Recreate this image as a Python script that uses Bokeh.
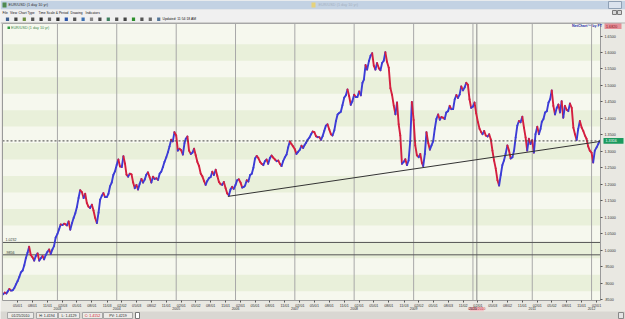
import numpy as np
from bokeh.plotting import figure
from bokeh.models import Range1d, LinearAxis, FixedTicker, ColumnDataSource
from bokeh.core.properties import value
from bokeh.embed import file_html
from bokeh.resources import INLINE

# ---------------- data (EUR/USD, ~3 samples per month: 1st, 11th, 21st) ----------------
eur_2002 = [0.866, 0.871, 0.868, 0.874, 0.882, 0.877, 0.878, 0.885, 0.896,
            0.906, 0.918, 0.932, 0.938, 0.954, 0.976, 0.992, 1.010, 0.985,
            0.978, 0.968, 0.982, 0.990, 0.968, 0.975, 0.982, 0.972, 0.985,
            0.995, 1.002, 0.988, 1.002, 1.012, 1.038]          # Feb..Dec
eur_2003 = [1.049, 1.063, 1.078, 1.076, 1.080, 1.078, 1.075, 1.087, 1.062,
            1.082, 1.098, 1.112, 1.131, 1.158, 1.182, 1.176, 1.158, 1.171,
            1.143, 1.132, 1.128, 1.138, 1.120, 1.098, 1.082, 1.114, 1.153,
            1.165, 1.173, 1.161, 1.161, 1.171, 1.194, 1.205, 1.228, 1.239]
eur_2004 = [1.259, 1.275, 1.254, 1.252, 1.285, 1.262, 1.229, 1.223, 1.232,
            1.230, 1.205, 1.188, 1.198, 1.184, 1.201, 1.216, 1.205, 1.214,
            1.229, 1.236, 1.222, 1.205, 1.223, 1.216, 1.218, 1.213, 1.232,
            1.238, 1.252, 1.268, 1.282, 1.297, 1.315, 1.335, 1.330, 1.358]
eur_2005 = [1.348, 1.302, 1.308, 1.303, 1.290, 1.325, 1.338, 1.345, 1.302,
            1.292, 1.296, 1.308, 1.288, 1.268, 1.256, 1.232, 1.224, 1.210,
            1.198, 1.210, 1.218, 1.222, 1.238, 1.228, 1.244, 1.225, 1.207,
            1.200, 1.198, 1.207, 1.188, 1.172, 1.166, 1.184, 1.192, 1.186]
eur_2006 = [1.198, 1.212, 1.215, 1.205, 1.190, 1.192, 1.196, 1.212, 1.208,
            1.228, 1.232, 1.250, 1.278, 1.286, 1.280, 1.268, 1.262, 1.258,
            1.270, 1.275, 1.262, 1.280, 1.287, 1.281, 1.275, 1.270, 1.272,
            1.262, 1.255, 1.270, 1.282, 1.290, 1.312, 1.330, 1.322, 1.315]
eur_2007 = [1.306, 1.292, 1.298, 1.305, 1.317, 1.310, 1.318, 1.326, 1.335,
            1.342, 1.352, 1.360, 1.358, 1.346, 1.343, 1.343, 1.335, 1.346,
            1.362, 1.378, 1.382, 1.366, 1.352, 1.348, 1.364, 1.392, 1.412,
            1.416, 1.420, 1.440, 1.463, 1.470, 1.488, 1.468, 1.441, 1.452]
eur_2008 = [1.472, 1.465, 1.465, 1.482, 1.470, 1.508, 1.518, 1.562, 1.548,
            1.574, 1.590, 1.598, 1.560, 1.548, 1.568, 1.552, 1.546, 1.568,
            1.575, 1.601, 1.572, 1.554, 1.492, 1.472, 1.438, 1.412, 1.448,
            1.382, 1.348, 1.262, 1.268, 1.276, 1.258, 1.272, 1.330, 1.450]
eur_2009 = [1.395, 1.318, 1.288, 1.282, 1.292, 1.265, 1.255, 1.292, 1.358,
            1.325, 1.305, 1.318, 1.330, 1.368, 1.398, 1.412, 1.396, 1.404,
            1.402, 1.398, 1.418, 1.422, 1.438, 1.428, 1.428, 1.458, 1.471,
            1.462, 1.472, 1.497, 1.485, 1.494, 1.508, 1.502, 1.458, 1.432]
eur_2010 = [1.436, 1.448, 1.415, 1.388, 1.368, 1.358, 1.352, 1.362, 1.348,
            1.345, 1.352, 1.336, 1.302, 1.272, 1.248, 1.212, 1.196, 1.228,
            1.258, 1.272, 1.292, 1.318, 1.302, 1.278, 1.282, 1.302, 1.342,
            1.378, 1.392, 1.388, 1.405, 1.372, 1.342, 1.302, 1.338, 1.322]
eur_2011 = [1.334, 1.296, 1.352, 1.375, 1.352, 1.368, 1.390, 1.398, 1.418,
            1.422, 1.448, 1.458, 1.485, 1.438, 1.412, 1.432, 1.442, 1.418,
            1.452, 1.402, 1.438, 1.426, 1.422, 1.445, 1.432, 1.372, 1.352,
            1.334, 1.368, 1.392, 1.372, 1.362, 1.348, 1.338, 1.315, 1.302]
eur_2012 = [1.296, 1.266, 1.302, 1.312, 1.322, 1.332]          # Jan..Feb

years = [2002, 2003, 2004, 2005, 2006, 2007, 2008, 2009, 2010, 2011, 2012]
series_by_year = [eur_2002, eur_2003, eur_2004, eur_2005, eur_2006, eur_2007,
                  eur_2008, eur_2009, eur_2010, eur_2011, eur_2012]

month_tick_dates = ["2002-05-01", "2002-08-01", "2002-11-01",
                    "2003-02-03", "2003-05-01", "2003-08-01", "2003-11-03",
                    "2004-02-02", "2004-05-03", "2004-08-02", "2004-11-01",
                    "2005-02-01", "2005-05-02", "2005-08-01", "2005-11-01",
                    "2006-02-01", "2006-05-01", "2006-08-01", "2006-11-01",
                    "2007-02-01", "2007-05-01", "2007-08-01", "2007-11-01",
                    "2008-02-01", "2008-05-01", "2008-08-01", "2008-11-03",
                    "2009-02-02", "2009-05-01", "2009-08-03", "2009-11-02",
                    "2010-02-01", "2010-05-03", "2010-08-02", "2010-11-01",
                    "2011-02-01", "2011-05-02", "2011-08-01", "2011-11-01",
                    "2012-02-01"]
year_dates = ["2003-01-01", "2004-01-01", "2005-01-01", "2006-01-01", "2007-01-01",
              "2008-01-01", "2009-01-01", "2010-01-01", "2011-01-01", "2012-01-01"]
year_labels = ["2003", "2004", "2005", "2006", "2007", "2008", "2009", "2010", "2011", "2012"]

price_ticks = [0.85, 0.90, 0.95, 1.00, 1.05, 1.10, 1.15, 1.20, 1.25, 1.30,
               1.35, 1.40, 1.45, 1.50, 1.55, 1.60, 1.65]
price_tick_labels = [".8500", ".9000", ".9500", "1.0000", "1.0500", "1.1000", "1.1500",
                     "1.2000", "1.2500", "1.3000", "1.3500", "1.4000", "1.4500",
                     "1.5000", "1.5500", "1.6000", "1.6500"]

trend_dates = ["2005-11-15", "2012-02-24"]
trend_values = [1.163, 1.330]
support_levels = [1.0232, 0.9856]
support_labels = ["1.0232", ".9856"]
last_price = 1.3316
last_price_label = "1.3316"
cursor_date = "2010-01-25"
cursor_date_label = "01/25/2010"
cursor_price_label = "1.6820"
status_fields = ["01/25/2010", "H: 1.4194", "L: 1.4129", "C: 1.4152", "PV: 1.4219"]
menu_items = ["File", "View", "Chart Type", "Time Scale & Period", "Drawing", "Indicators"]
window_title = "EUR/USD (1 day 10 yr)"

# ---------------- helpers ----------------
EPOCH = np.datetime64("1970-01-01", "D")


def dnum(s):
    return int((np.datetime64(s, "D") - EPOCH).astype(int))


dates, values = [], []
for yr, vals in zip(years, series_by_year):
    m0 = 2 if yr == 2002 else 1
    for i, v in enumerate(vals):
        dates.append(dnum(f"{yr}-{m0 + i // 3:02d}-{[1, 11, 21][i % 3]:02d}"))
        values.append(v)

# chart area: x 2..600 px, y 23..300 px of the 625x319 canvas
X_LEFT, X_RIGHT = dnum("2002-01-28"), dnum("2012-02-25")
Y_TOP, Y_BOT = 1.6881, 0.8469
DPP = (X_RIGHT - X_LEFT) / 598.0
KPP = (Y_TOP - Y_BOT) / 277.0


def px(x):
    return X_LEFT + (x - 2) * DPP


def py(y):
    return Y_TOP - (y - 23) * KPP


FONT = "Liberation Sans"
UP, DOWN = "#3c3cd6", "#d41f3f"

p = figure(width=625, height=319, output_backend="svg", toolbar_location=None,
           x_range=Range1d(px(0), px(625)), y_range=Range1d(py(319), py(0)),
           x_axis_location=None, y_axis_location=None,
           min_border=0, min_border_left=0, min_border_right=0,
           min_border_top=0, min_border_bottom=0,
           background_fill_color="#e9e8e2", border_fill_color="#e9e8e2",
           outline_line_color=None)
p.xgrid.visible = False
p.ygrid.visible = False
if p.title is not None:
    p.title.visible = False


def cquad(l, t, r, b, fill, line=None):
    p.quad(left=[px(v) for v in l], right=[px(v) for v in r],
           top=[py(v) for v in t], bottom=[py(v) for v in b],
           fill_color=fill, line_color=line if line else None, line_width=1)


def ctext(xs, ys, ss, size="3.6px", color="#111", align="left", bold=False):
    p.text([px(v) for v in xs], [py(v) for v in ys], text=ss, text_font=value(FONT),
           text_font_size=value(size), text_color=color, text_align=align,
           text_baseline="middle", text_font_style="bold" if bold else "normal")


# ---------------- chart area ----------------
p.quad(left=[X_LEFT], right=[X_RIGHT], top=[Y_TOP], bottom=[Y_BOT],
       fill_color="#f6f8ee", line_color=None)
band_c = [0.90 + 0.10 * k for k in range(8)]
p.quad(left=X_LEFT, right=X_RIGHT, top=[min(c + 0.025, Y_TOP) for c in band_c],
       bottom=[max(c - 0.025, Y_BOT) for c in band_c], fill_color="#e9f0da", line_color=None)
yd = [dnum(d) for d in year_dates]
p.segment(x0=yd, y0=Y_BOT, x1=yd, y1=Y_TOP, line_color="#a8a8a8", line_width=1)
p.segment(x0=[dnum(cursor_date)], y0=Y_BOT, x1=[dnum(cursor_date)], y1=Y_TOP,
          line_color="#8a8a8a", line_width=1)

p.segment(x0=X_LEFT, y0=support_levels, x1=X_RIGHT, y1=support_levels,
          line_color="#555555", line_width=1)
p.text([px(5)] * 2, [v + 1.2 * KPP for v in support_levels], text=support_labels,
       text_font=value(FONT), text_font_size=value("3.6px"), text_color="#333",
       text_baseline="bottom")

x0, x1, y0, y1 = dates[:-1], dates[1:], values[:-1], values[1:]
cols = [UP if b >= a else DOWN for a, b in zip(y0, y1)]
src = ColumnDataSource(dict(x0=x0, x1=x1, y0=y0, y1=y1, c=cols))
p.segment("x0", "y0", "x1", "y1", source=src, line_color="c", line_width=1.9, line_cap="round")

p.line([dnum(d) for d in trend_dates], trend_values, line_color="#333333", line_width=1)
p.segment(x0=[X_LEFT], y0=[last_price], x1=[X_RIGHT], y1=[last_price],
          line_color="#444444", line_width=1, line_dash="2 2")
p.quad(left=[X_LEFT], right=[X_RIGHT], top=[Y_TOP], bottom=[Y_BOT],
       fill_color=None, line_color="#9a9a9a", line_width=1)

# legend, brand
cquad([7], [26], [9.5], [28.5], "#2f9a3f")
ctext([10.5], [27.3], [window_title], size="3.7px", color="#3a8a4a")
ctext([571.5], [25], ["NetChart\u2122 by FT"], size="3.7px", color="#2a2aa8", bold=True)

# ---------------- axes (fixed on the chart edges) ----------------
axis_common = dict(axis_line_color=None, minor_tick_line_color=None,
                   major_label_text_color="#333", major_label_text_font=FONT)
mt = [dnum(d) for d in month_tick_dates]
xa = LinearAxis(fixed_location=Y_BOT, ticker=FixedTicker(ticks=mt),
                major_label_overrides={t: d[5:7] + "/" + d[8:10] for t, d in zip(mt, month_tick_dates)},
                major_tick_line_color="#555", major_tick_in=0, major_tick_out=2,
                major_label_standoff=1, major_label_text_font_size="3.7px", **axis_common)
p.add_layout(xa, "below")
ya2 = LinearAxis(fixed_location=py(306.5), ticker=FixedTicker(ticks=yd),
                 major_label_overrides={t: s for t, s in zip(yd, year_labels)},
                 major_tick_line_color=None, major_tick_in=0, major_tick_out=0,
                 major_label_standoff=0, major_label_text_font_size="3.5px", **axis_common)
p.add_layout(ya2, "below")
ra = LinearAxis(fixed_location=X_RIGHT, ticker=FixedTicker(ticks=price_ticks),
                major_label_overrides={t: s for t, s in zip(price_ticks, price_tick_labels)},
                major_tick_line_color="#555", major_tick_in=0, major_tick_out=2,
                major_label_standoff=2, major_label_text_font_size="3.7px", **axis_common)
p.add_layout(ra, "right")

# price tags on the right axis, cursor date tag on the time axis
p.quad(left=[px(603)], right=[px(623)], top=[last_price + 2.8 * KPP],
       bottom=[last_price - 2.8 * KPP], fill_color="#1a9a5e", line_color=None)
p.text([px(605)], [last_price], text=[last_price_label], text_font=value(FONT),
       text_font_size=value("3.7px"), text_color="#ffffff", text_baseline="middle")
cquad([604], [22.6], [621], [28.4], "#e58f98")
ctext([605.5], [25.5], [cursor_price_label], size="3.7px", color="#8a1020")
cd = dnum(cursor_date)
p.quad(left=[cd - 7 * DPP], right=[cd + 7 * DPP], top=[py(306.6)], bottom=[py(311)],
       fill_color="#f2c4c8", line_color=None)
p.text([cd], [py(308.8)], text=[cursor_date_label], text_font=value(FONT),
       text_font_size=value("3.4px"), text_color="#c01828", text_align="center",
       text_baseline="middle")

# ---------------- window chrome: title bar, menu, toolbar ----------------
cquad([0], [0], [625], [9], "#c3d2e3")
cquad([0], [9], [625], [22], "#f0f0f0")
cquad([0], [22], [625], [23], "#b4b4b4")
cquad([2], [2], [6], [7], "#4f8a4f")
ctext([8], [4.6], [window_title], size="3.8px", color="#303030")
cquad([311], [2], [315], [7], "#e6d27a")
ctext([318], [4.6], [window_title], size="3.8px", color="#a3b0bf")
cquad([608], [1], [621], [8], "#dbe3ee", "#8fa0b4")
ctext([2, 9.5, 18, 38, 70, 85], [12.4] * 6, menu_items, size="3.3px")
icon_cols = ["#3d5f8f", "#444", "#6d8f3d", "#555", "#333", "#666", "#333", "#2b55a8", "#555",
             "#3b6fb0", "#888", "#4a4a4a", "#3d7f5f", "#555", "#444", "#2d8f2d", "#555",
             "#6a6a6a", "#557799"]
ix = [7 + i * 8.4 for i in range(len(icon_cols))]
p.quad(left=[px(x - 1.6) for x in ix], right=[px(x + 1.6) for x in ix],
       top=[py(17)] * len(ix), bottom=[py(20.5)] * len(ix), fill_color=icon_cols,
       line_color=None)
ctext([162], [18.8], ["Updated: 11:54:18 AM"], size="3.4px")
cquad([612, 617], [10, 10], [616, 621], [14, 14], "#d8d8d8", "#7a7a7a")

# ---------------- status bar ----------------
cquad([0], [311], [625], [319], "#d9d7d2")
sl = [7, 36, 58, 82, 103]
sr = [33, 57, 79, 102, 132]
cquad(sl, [312] * 5, sr, [318] * 5, "#ecebe8", "#a6a6a6")
for l, r, s in zip(sl, sr, status_fields):
    ctext([(l + r) / 2], [315], [s], size="3.6px",
          color="#d01020" if s.startswith("C:") else "#222", align="center")
cquad([135], [312], [139], [318], "#ffffff", "#777777")
cquad([618], [312], [623], [318], "#e4e4e4", "#888888")

open("out.html", "w").write(file_html(p, INLINE))
